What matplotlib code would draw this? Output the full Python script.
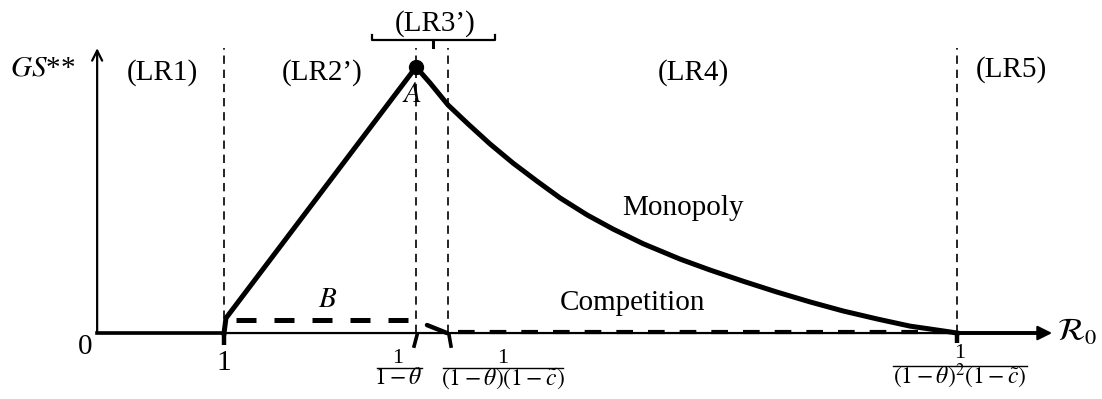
import matplotlib
matplotlib.use("Agg")
import matplotlib.pyplot as plt
import numpy as np

plt.rcParams['font.family'] = ['Liberation Serif', 'DejaVu Serif']
plt.rcParams['mathtext.fontset'] = 'stix'

# schematic values (x in R0 units, y scaled so peak = 1)
r_one = 1.0
r_theta = 2.0          # 1/(1-theta)
r_theta_c = 2.167      # 1/((1-theta)(1-c))
r_end = 4.818          # 1/((1-theta)^2(1-c))

# monopoly branch
mono_rise_x = [1.0, 1.01, 2.0]
mono_rise_y = [0.0, 0.056, 1.0]
mono_fall_x = [2.0, 2.073, 2.167, 2.271, 2.385, 2.505, 2.630, 2.750, 2.891,
               3.026, 3.182, 3.375, 3.531, 3.703, 3.880, 4.052, 4.224,
               4.401, 4.573, 4.745, 4.818]
mono_fall_y = [1.0, 0.940, 0.857, 0.786, 0.711, 0.639, 0.571, 0.508, 0.444,
               0.391, 0.336, 0.278, 0.237, 0.195, 0.154, 0.117, 0.083,
               0.053, 0.026, 0.008, 0.0]

# competition branch
comp_b_x = [1.06, 1.97]
comp_b_y = [0.049, 0.049]
comp_drop_x = [2.057, 2.161]
comp_drop_y = [0.030, 0.0]
comp_tail_x = [2.22, 4.818]
comp_tail_y = [0.004, 0.004]

region_labels = ['(LR1)', '(LR2\u2019)', '(LR3\u2019)', '(LR4)', '(LR5)']
region_pos = [(0.677, 0.981), (1.510, 0.981), (2.099, 1.165),
              (3.443, 0.981), (5.099, 0.989)]

y_axis_x = 0.339
x_arrow_end = 5.313
y_arrow_end = 1.071

fig = plt.figure(figsize=(11.02, 3.99), dpi=100)
ax = fig.add_axes([0, 0, 1, 1])
ax.set_xlim(-0.167, 5.573)
ax.set_ylim(-0.248, 1.252)
ax.axis('off')

# axes with arrows
ax.annotate('', xy=(x_arrow_end, 0), xytext=(y_axis_x, 0),
            arrowprops=dict(arrowstyle='-|>', lw=1.6, color='black',
                            mutation_scale=22, shrinkA=0, shrinkB=0))
ax.annotate('', xy=(y_axis_x, y_arrow_end), xytext=(y_axis_x, 0),
            arrowprops=dict(arrowstyle='->', lw=1.6, color='black',
                            mutation_scale=18, shrinkA=0, shrinkB=0))

# vertical dashed region lines
for xv in [r_one, r_theta, r_theta_c, r_end]:
    ax.plot([xv, xv], [0, y_arrow_end], color='black', lw=1.2,
            dashes=(5, 3.5))

# short ticks under the axis
ax.plot([r_one, r_one], [0, -0.045], color='black', lw=3.2, solid_capstyle='butt')
ax.plot([2.005, 1.990], [-0.008, -0.049], color='black', lw=2.6)
ax.plot([2.172, 2.182], [-0.008, -0.049], color='black', lw=2.6)
ax.plot([r_end, r_end], [0, -0.038], color='black', lw=3.2, solid_capstyle='butt')

# monopoly
ax.plot([y_axis_x, r_one], [0, 0], color='black', lw=2.6)
ax.plot(mono_rise_x, mono_rise_y, color='black', lw=3.6, solid_joinstyle='round')
ax.plot(mono_fall_x, mono_fall_y, color='black', lw=3.6, solid_joinstyle='round')
ax.plot([r_end, 5.25], [0, 0], color='black', lw=2.8)
ax.plot([r_theta], [1.0], 'o', color='black', ms=10)

# competition
ax.plot(comp_b_x, comp_b_y, color='black', lw=3.6, dashes=(4, 3.6))
ax.plot(comp_drop_x, comp_drop_y, color='black', lw=3.2, solid_capstyle='round')
ax.plot(comp_tail_x, comp_tail_y, color='black', lw=3.0, dashes=(4, 3.6))

# bracket over LR3'
br_y = 1.102
ax.plot([1.771, 1.771, 2.411, 2.411], [1.120, br_y, br_y, 1.120], color='black', lw=1.6)
ax.plot([2.089, 2.089], [br_y, 1.075], color='black', lw=2.2)

fs = 21
for lab, (xl, yl) in zip(region_labels, region_pos):
    ax.text(xl, yl, lab, fontsize=fs, ha='center', va='center')

ax.text(0.057, 0.996, r'$GS$**', fontsize=fs, ha='center', va='center')
ax.text(1.979, 0.895, r'$A$', fontsize=fs, ha='center', va='center')
ax.text(1.542, 0.124, r'$B$', fontsize=fs, ha='center', va='center')
ax.text(3.391, 0.470, 'Monopoly', fontsize=fs, ha='center', va='center')
ax.text(3.130, 0.113, 'Competition', fontsize=fs, ha='center', va='center')
ax.text(0.276, -0.053, '0', fontsize=fs, ha='center', va='center')
ax.text(r_one, -0.113, '1', fontsize=fs, ha='center', va='center')
ax.text(5.339, 0.0, r'$\mathcal{R}_0$', fontsize=fs + 2, ha='left', va='center')

# fraction tick labels
fracs = [(1.906, 1.797, 2.031, -0.094, -0.132, -0.172, r'$1-\theta$'),
         (2.453, 2.141, 2.766, -0.094, -0.132, -0.172, r'$(1-\theta)(1-\tilde{c})$'),
         (4.833, 4.484, 5.182, -0.078, -0.124, -0.164, r'$(1-\theta)^2(1-\tilde{c})$')]
for xc, x0, x1, yn, yb, yd, den in fracs:
    ax.text(xc, yn, '1', fontsize=16, ha='center', va='center')
    ax.plot([x0, x1], [yb, yb], color='black', lw=1.0)
    ax.text(xc, yd, den, fontsize=17, ha='center', va='center')

fig.savefig('out.png', dpi=100)
